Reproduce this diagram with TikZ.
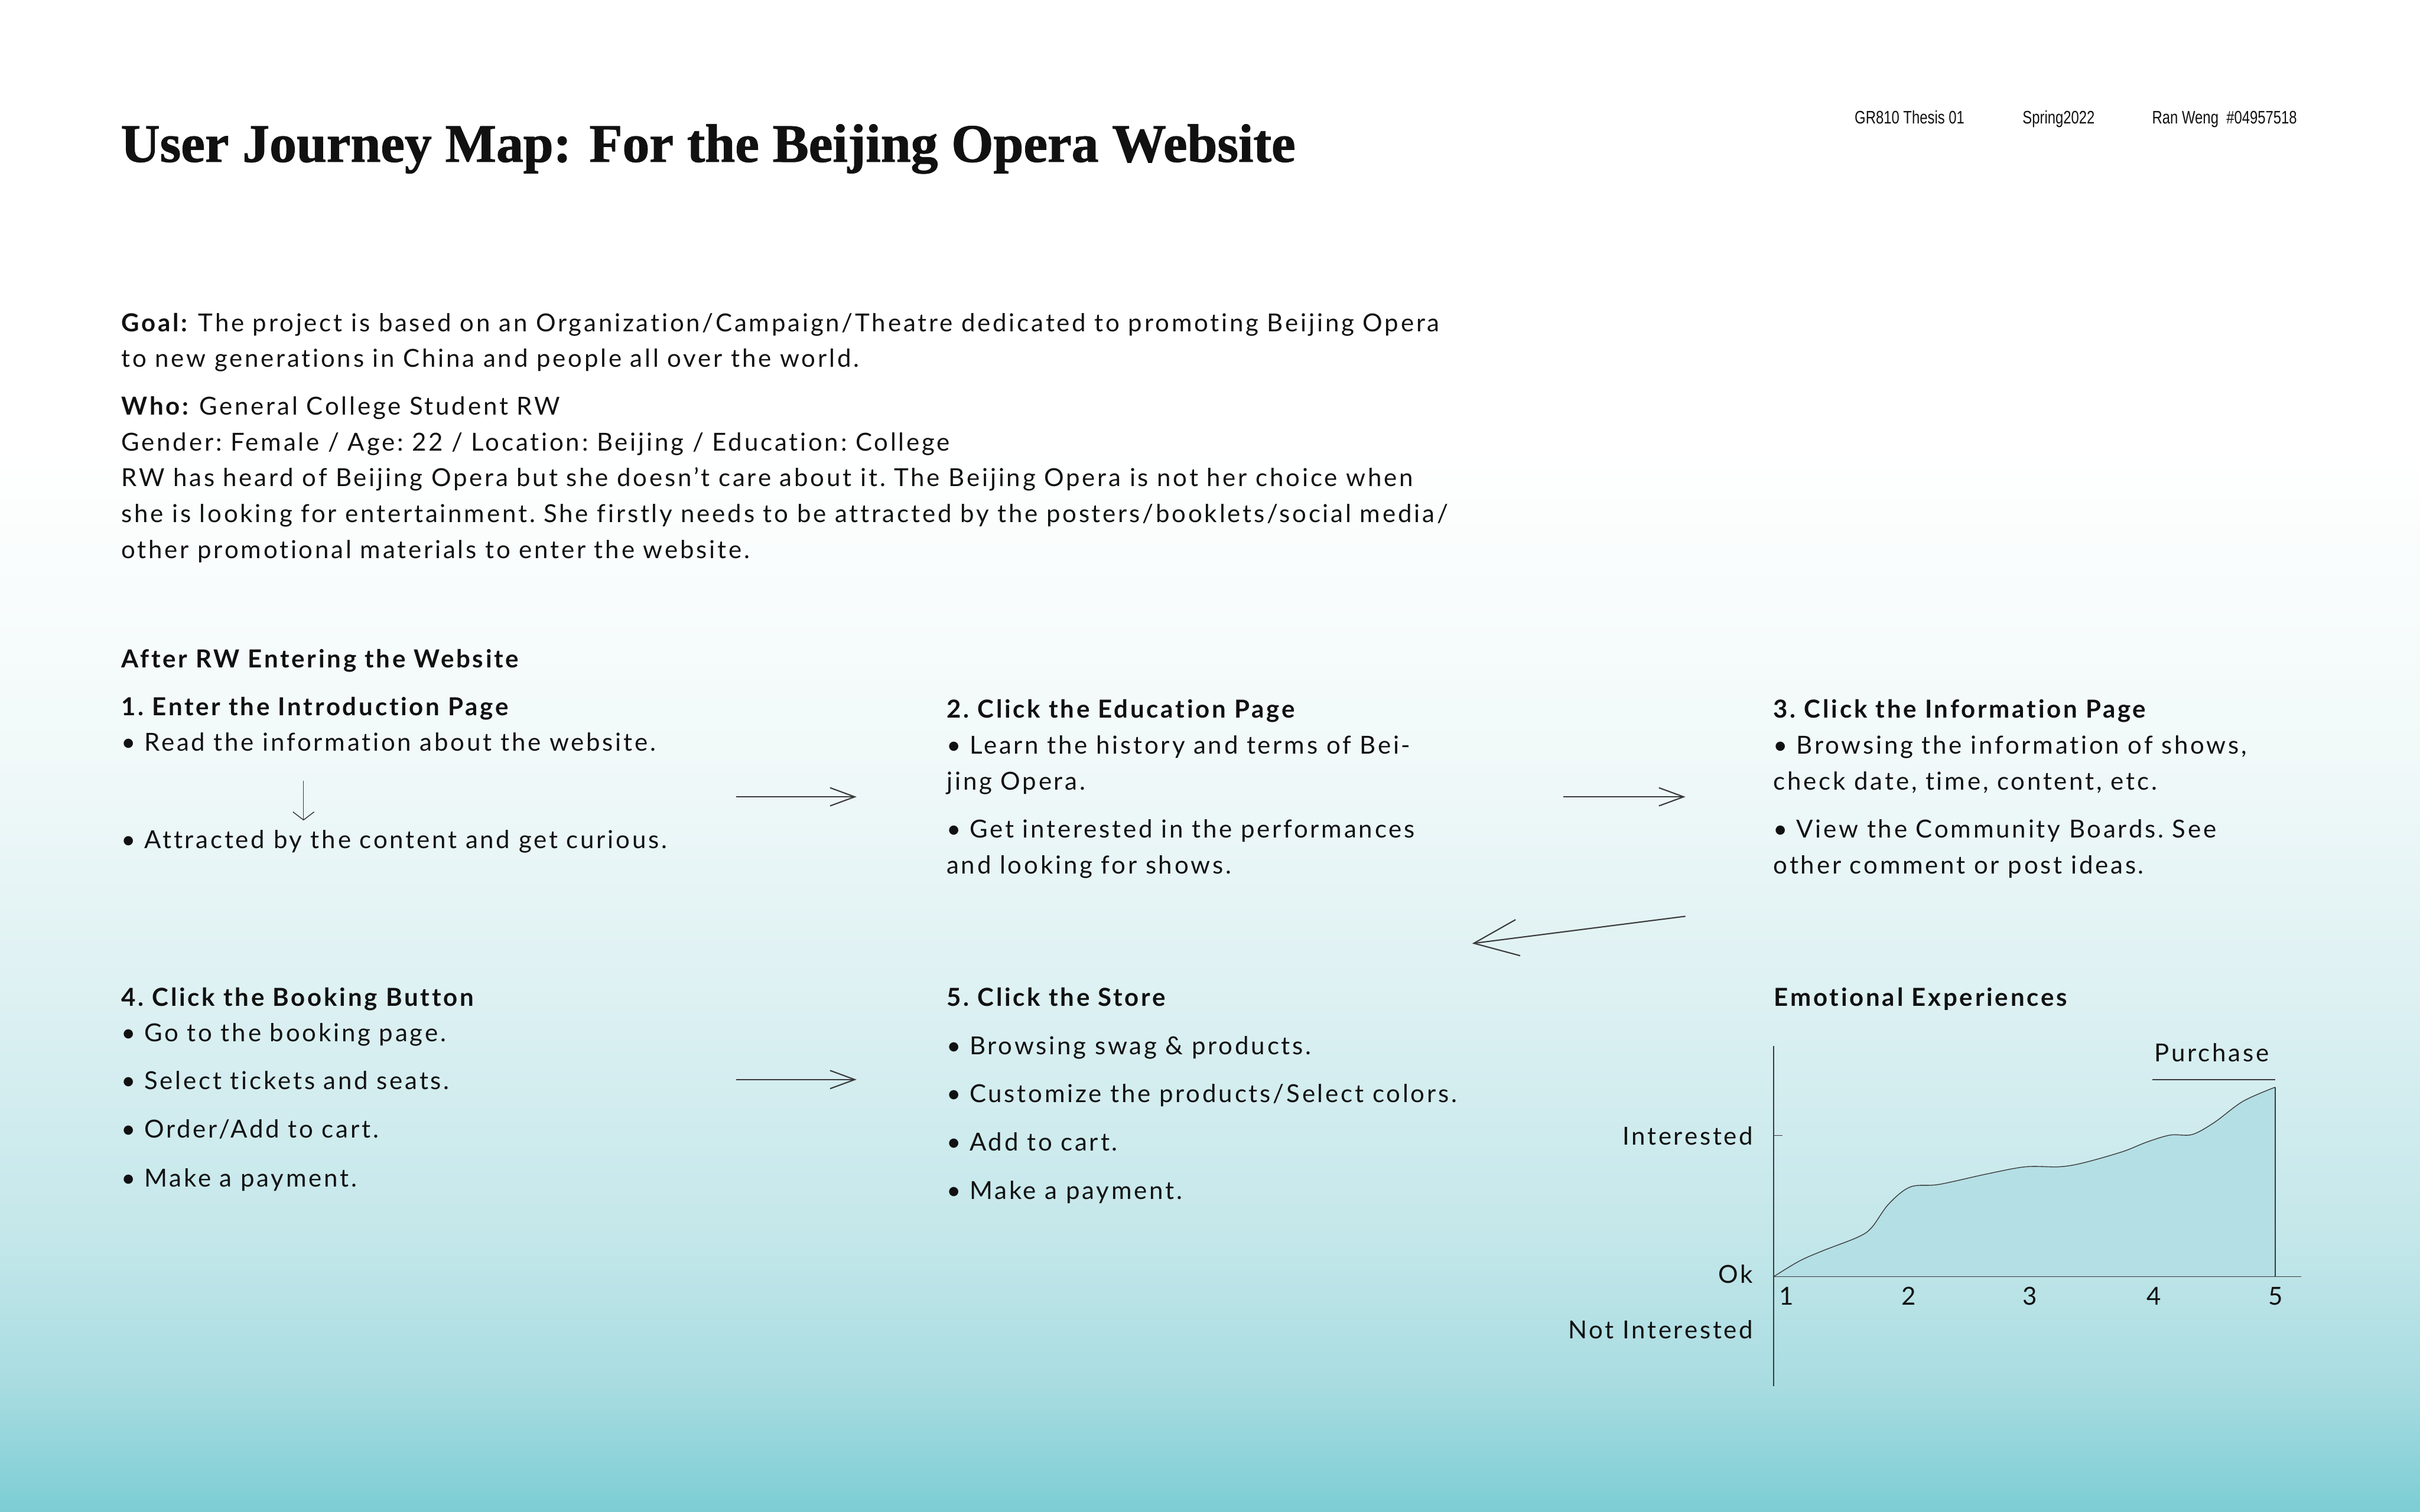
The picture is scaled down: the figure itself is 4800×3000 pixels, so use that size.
\documentclass[tikz,border=0pt]{standalone}
\usepackage{fontspec}
\setmainfont{Lato}[LetterSpace=9, Ligatures={NoCommon}]
\newfontfamily\titlefont{Liberation Serif}[BoldFont={Liberation Serif Bold}, BoldFeatures={FakeBold=1.2}]
\newfontfamily\metafont{Liberation Sans}[FakeStretch=0.78]
\usetikzlibrary{arrows.meta}
\definecolor{ink}{HTML}{111111}
\definecolor{lineg}{HTML}{3A3A3A}
\definecolor{chartfill}{HTML}{B4DFE5}
\definecolor{bgA}{HTML}{FFFFFF}
\definecolor{bgB}{HTML}{F1F9F9}
\definecolor{bgC}{HTML}{DCF0F2}
\definecolor{bgD}{HTML}{C4E7EA}
\definecolor{bgE}{HTML}{A8DCE1}
\definecolor{bgF}{HTML}{7CCDD4}
\tikzset{
  body/.style={font=\frenchspacing\fontsize{14}{20.2}\selectfont, text=ink, inner sep=0pt, align=left},
  line/.style={body, anchor=base west},
  para/.style={body, anchor=north west},
  lbl/.style={body, anchor=base east},
  num/.style={body, anchor=base},
  title/.style={font=\titlefont\bfseries\fontsize{30.5}{34}\selectfont, text=ink, inner sep=0pt, anchor=base west},
  meta/.style={font=\metafont\fontsize{10.2}{12}\selectfont, text=ink, inner sep=0pt, anchor=base west},
  flow/.style={draw=lineg, line width=0.7pt, -{Straight Barb[length=0.49cm,width=0.36cm]}},
  axis/.style={draw=lineg, line width=0.55pt},
}
\begin{document}
\begin{tikzpicture}[x=0.01cm,y=-0.01cm]
\useasboundingbox (0,0) rectangle (4800,3000);
% background
\fill[bgA] (0,0) rectangle (4800,882);
\shade[top color=bgA, bottom color=bgB] (0,880) rectangle (4800,1502);
\shade[top color=bgB, bottom color=bgC] (0,1500) rectangle (4800,2002);
\shade[top color=bgC, bottom color=bgD] (0,2000) rectangle (4800,2452);
\shade[top color=bgD, bottom color=bgE] (0,2450) rectangle (4800,2752);
\shade[top color=bgE, bottom color=bgF] (0,2750) rectangle (4800,3000);

% header
\node[title] (title) at (239,321) {User Journey Map: For the Beijing Opera Website};
\node[meta] (m1) at (3678,245) {GR810 Thesis 01};
\node[meta] (m2) at (4011,245) {Spring2022};
\node[meta] (m3) at (4268,245) {Ran Weng\ \ \#04957518};

% intro
\node[para] (goal) at (240,607) {\strut\textbf{Goal:} The project is based on an Organization/Campaign/Theatre dedicated to promoting Beijing Opera\\to new generations in China and people all over the world.};
\node[para] (who) at (240,773) {\strut\textbf{Who:} General College Student RW\\Gender: Female / Age: 22 / Location: Beijing / Education: College\\RW has heard of Beijing Opera but she doesn’t care about it. The Beijing Opera is not her choice when\\she is looking for entertainment. She firstly needs to be attracted by the posters/booklets/social media/\\other promotional materials to enter the website.};

\node[line] (after) at (240,1325) {\textbf{After RW Entering the Website}};

% step 1
\node[line] (h1) at (240,1420) {\textbf{1. Enter the Introduction Page}};
\node[line] (s1a) at (240,1490) {\textbullet\ Read the information about the website.};
\node[line] (s1b) at (240,1683) {\textbullet\ Attracted by the content and get curious.};

% step 2
\node[line] (h2) at (1877,1424) {\textbf{2. Click the Education Page}};
\node[para] (s2a) at (1877,1446) {\strut\textbullet\ Learn the history and terms of Bei-\\jing Opera.};
\node[para] (s2b) at (1877,1612) {\strut\textbullet\ Get interested in the performances\\and looking for shows.};

% step 3
\node[line] (h3) at (3517,1424) {\textbf{3. Click the Information Page}};
\node[para] (s3a) at (3517,1446) {\strut\textbullet\ Browsing the information of shows,\\check date, time, content, etc.};
\node[para] (s3b) at (3517,1612) {\strut\textbullet\ View the Community Boards. See\\other comment or post ideas.};

% step 4
\node[line] (h4) at (240,1996) {\textbf{4. Click the Booking Button}};
\node[line] (s4a) at (240,2066) {\textbullet\ Go to the booking page.};
\node[line] (s4b) at (240,2162) {\textbullet\ Select tickets and seats.};
\node[line] (s4c) at (240,2258) {\textbullet\ Order/Add to cart.};
\node[line] (s4d) at (240,2355) {\textbullet\ Make a payment.};

% step 5
\node[line] (h5) at (1877,1996) {\textbf{5. Click the Store}};
\node[line] (s5a) at (1877,2092) {\textbullet\ Browsing swag \& products.};
\node[line] (s5b) at (1877,2187) {\textbullet\ Customize the products/Select colors.};
\node[line] (s5c) at (1877,2283) {\textbullet\ Add to cart.};
\node[line] (s5d) at (1877,2380) {\textbullet\ Make a payment.};

% arrows
\coordinate (d1) at (602,1549);
\coordinate (d2) at (602,1628);
\draw[draw=lineg, line width=0.5pt, -{Straight Barb[length=0.16cm,width=0.42cm]}] (d1) -- (d2);
\coordinate (a1s) at (1460,1581);
\coordinate (a1e) at (1699,1581);
\draw[flow] (a1s) -- (a1e);
\coordinate (a2s) at (3101,1581);
\coordinate (a2e) at (3343,1581);
\draw[flow] (a2s) -- (a2e);
\coordinate (a3s) at (3343,1818);
\coordinate (a3e) at (2920,1872);
\draw[draw=lineg, line width=0.7pt, -{Straight Barb[length=0.88cm,width=0.72cm]}] (a3s) -- (a3e);
\coordinate (a4s) at (1460,2142);
\coordinate (a4e) at (1699,2142);
\draw[flow] (a4s) -- (a4e);

% chart
\node[line] (emo) at (3518,1996) {\textbf{Emotional Experiences}};
\coordinate (o) at (3518,2533);
\coordinate (ytop) at (3518,2075);
\coordinate (ybot) at (3518,2750);
\coordinate (xend) at (4564,2533);
\coordinate (peak) at (4513,2157);
\coordinate (pbase) at (4513,2533);
\fill[chartfill] plot[smooth, tension=0.55] coordinates {(3518,2533) (3569,2502) (3617,2481) (3684,2455) (3712,2436) (3746,2389) (3789,2355) (3846,2350) (3942,2329) (4018,2315) (4085,2315) (4133,2307) (4210,2285) (4258,2266) (4305,2252) (4348,2251) (4392,2227) (4449,2185) (4513,2157)} -- (pbase) -- cycle;
\draw[draw=lineg, line width=0.45pt] plot[smooth, tension=0.55] coordinates {(3518,2533) (3569,2502) (3617,2481) (3684,2455) (3712,2436) (3746,2389) (3789,2355) (3846,2350) (3942,2329) (4018,2315) (4085,2315) (4133,2307) (4210,2285) (4258,2266) (4305,2252) (4348,2251) (4392,2227) (4449,2185) (4513,2157)};
\draw[axis, line width=0.45pt] (peak) -- (pbase);
\draw[axis] (ytop) -- (ybot);
\draw[axis] (o) -- (xend);
\coordinate (tk) at (3518,2253);
\coordinate (tke) at (3536,2253);
\draw[axis] (tk) -- (tke);
\node[lbl] (li) at (3478,2272) {Interested};
\node[lbl] (lo) at (3478,2546) {Ok};
\node[lbl] (ln) at (3478,2656) {Not Interested};
\node[num] (n1) at (3543,2589) {1};
\node[num] (n2) at (3786,2589) {2};
\node[num] (n3) at (4026,2589) {3};
\node[num] (n4) at (4272,2589) {4};
\node[num] (n5) at (4514,2589) {5};
\node[num] (pur) at (4387,2106) {Purchase};
\coordinate (u1) at (4269,2142);
\coordinate (u2) at (4513,2142);
\draw[axis] (u1) -- (u2);
\end{tikzpicture}
\end{document}
